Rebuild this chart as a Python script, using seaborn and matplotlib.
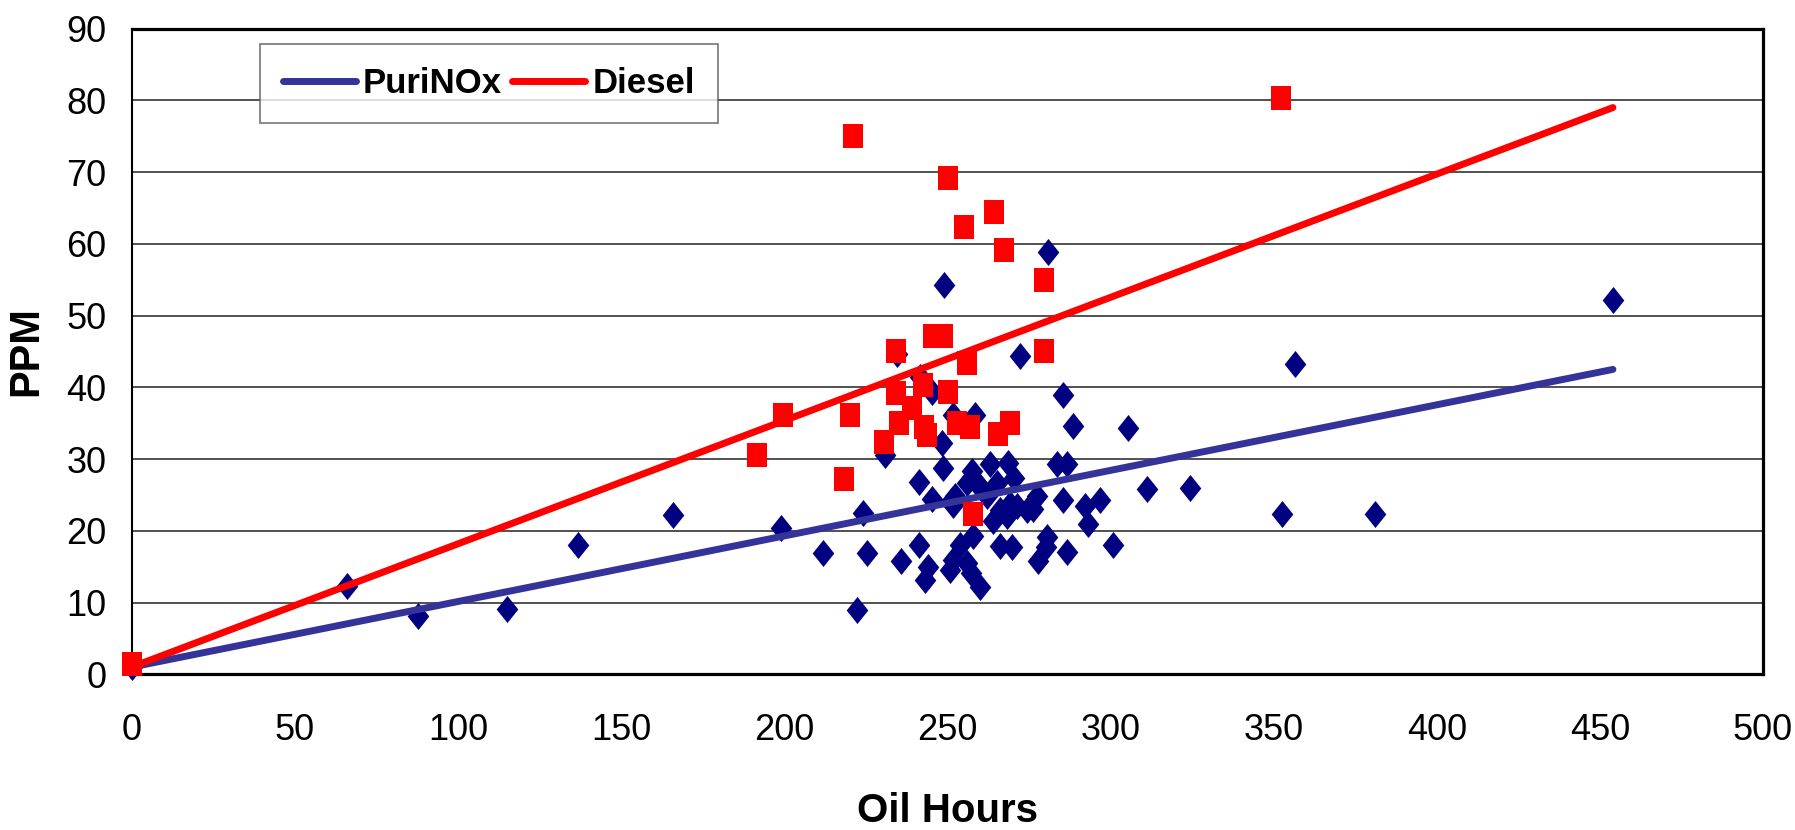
import seaborn as sns
import matplotlib.pyplot as plt
import pandas as pd
from matplotlib import font_manager
from matplotlib.markers import MarkerStyle
from matplotlib.path import Path

# PuriNOx samples (oil hours, ppm)
puri_hours = [0, 66, 87.7, 115.1, 136.8, 166, 199.0, 212.0, 222.4, 224.2, 225.3, 230.9,
              234.6, 235.9, 241.4, 241.4, 241.6, 243.3, 244.2, 245.2, 245.2, 248.3, 248.8,
              248.9, 251.6, 251.3, 251.8, 252.3, 250.8, 251.8, 253.9, 256.0, 257.2, 258.0,
              260.0, 255.9, 257.5, 258.5, 259.0, 260.0, 262.1, 263.1, 264.1, 265.1, 266.1,
              266.2, 268.2, 268.7, 269.2, 269.7, 270.5, 271.3, 272.3, 274.3, 276.3, 277.4,
              277.9, 280.2, 280.7, 281.0, 283.5, 285.5, 285.5, 286.6, 286.6, 288.6, 292.2,
              293.2, 296.8, 300.9, 305.5, 311.1, 324.4, 352.7, 356.5, 381.2, 454]
puri_ppm = [1.0, 12.3, 8.1, 9.1, 18.0, 22.2, 20.4, 16.9, 9.0, 22.5, 16.9, 30.6,
            44.7, 15.8, 26.8, 18.0, 41.5, 13.2, 15.0, 24.4, 39.4, 32.2, 28.8,
            54.2, 36.1, 24.3, 23.6, 24.8, 14.5, 15.9, 18.0, 15.5, 14.1, 19.3,
            12.2, 26.6, 28.3, 36.1, 26.6, 26.1, 24.8, 29.3, 21.3, 26.6, 22.9,
            17.9, 22.0, 29.4, 23.8, 17.8, 27.4, 23.4, 44.3, 22.9, 23.1, 24.8,
            15.8, 17.8, 19.2, 58.9, 29.3, 24.3, 38.9, 29.3, 17.0, 34.6, 23.5,
            20.9, 24.3, 18.0, 34.3, 25.8, 26.0, 22.3, 43.3, 22.3, 52.2]

# Diesel samples
diesel_hours = [0, 191.6, 199.7, 218.3, 220.2, 221.1, 230.6, 234.3, 234.3, 235.2, 239.1,
                242.7, 242.8, 243.8, 245.6, 248.6, 250.3, 250.3, 252.9, 255.0, 256.0,
                256.9, 257.9, 264.4, 265.4, 267.3, 269.2, 279.5, 279.5, 352.2]
diesel_ppm = [1.4, 30.5, 36.1, 27.2, 36.1, 75.0, 32.4, 45.1, 39.2, 35.0, 37.1,
              40.3, 34.5, 33.4, 47.2, 47.2, 69.2, 39.3, 35.0, 62.3, 43.4,
              34.5, 22.4, 64.5, 33.5, 59.2, 35.0, 55.0, 45.1, 80.3]

# linear trend lines (end points)
trend_hours = [0, 454]
puri_trend = [1.0, 42.5]
diesel_trend = [1.0, 79.0]

puri = pd.DataFrame({"hours": puri_hours, "ppm": puri_ppm})
diesel = pd.DataFrame({"hours": diesel_hours, "ppm": diesel_ppm})
trend = pd.DataFrame({"hours": trend_hours, "PuriNOx": puri_trend, "Diesel": diesel_trend})

sns.set_style("white")
names = {f.name for f in font_manager.fontManager.ttflist}
narrow = "Liberation Sans Narrow" if "Liberation Sans Narrow" in names else "Liberation Sans"
plt.rcParams["font.family"] = [narrow, "DejaVu Sans"]
plt.rcParams["text.color"] = "black"
plt.rcParams["xtick.labelcolor"] = "black"
plt.rcParams["ytick.labelcolor"] = "black"
plt.rcParams["axes.labelcolor"] = "black"

diamond = MarkerStyle(Path([(0, 1), (0.8, 0), (0, -1), (-0.8, 0), (0, 1)],
                           [1, 2, 2, 2, 79]))
square = MarkerStyle(Path([(-0.8, -1), (0.8, -1), (0.8, 1), (-0.8, 1), (-0.8, -1)],
                          [1, 2, 2, 2, 79]))

fig = plt.figure(figsize=(17.95, 8.30), dpi=100)
ax = fig.add_axes([0.0733, 0.1876, 0.9089, 0.7779])

sns.scatterplot(data=puri, x="hours", y="ppm", marker=diamond, s=380, color="#000080",
                linewidth=0, ax=ax, zorder=3, clip_on=False)
sns.lineplot(data=trend, x="hours", y="PuriNOx", color="#333399", lw=5, ax=ax,
             zorder=4, solid_capstyle="round", label="PuriNOx")
sns.scatterplot(data=diesel, x="hours", y="ppm", marker=square, s=300, color="#FF0000",
                linewidth=0, ax=ax, zorder=5, clip_on=False)
sns.lineplot(data=trend, x="hours", y="Diesel", color="#FF0000", lw=5, ax=ax,
             zorder=6, solid_capstyle="round", label="Diesel")

ax.set_xlim(0, 500)
ax.set_ylim(0, 90)
ax.set_xticks(range(0, 501, 50))
ax.set_yticks(range(0, 91, 10))
ax.yaxis.grid(True, color="#333333", lw=1.2)
ax.set_axisbelow(True)

for side in ["top", "right", "bottom"]:
    ax.spines[side].set_linewidth(2.3)
    ax.spines[side].set_color("black")
ax.spines["left"].set_linewidth(1.5)
ax.spines["left"].set_color("black")

ax.tick_params(axis="x", direction="out", length=6, width=1.2, color="#808080",
               pad=22, labelsize=26, labelcolor="black")
ax.tick_params(axis="y", direction="out", length=6, width=1.2, color="black",
               pad=12, labelsize=26, labelcolor="black")

ax.set_xlabel("Oil Hours", fontsize=29, fontweight="bold", color="black")
ax.xaxis.set_label_coords(0.5, -0.183)
ax.set_ylabel("PPM", fontsize=30, fontweight="bold", color="black",
              family=["Liberation Sans", "DejaVu Sans"])
ax.yaxis.set_label_coords(-0.052, 0.5)

leg = ax.legend(loc="upper left", bbox_to_anchor=(259.6 / 1795, 1 - 43.7 / 830),
                bbox_transform=fig.transFigure, borderaxespad=0, ncol=2,
                prop={"size": 25, "weight": "bold"}, handlelength=2.1,
                handletextpad=0.2, columnspacing=0.3, borderpad=0.67,
                fancybox=False, frameon=True)
leg.get_frame().set_edgecolor("#555555")
leg.get_frame().set_linewidth(1.2)
leg.set_zorder(10)

fig.savefig("out.png", dpi=100)
